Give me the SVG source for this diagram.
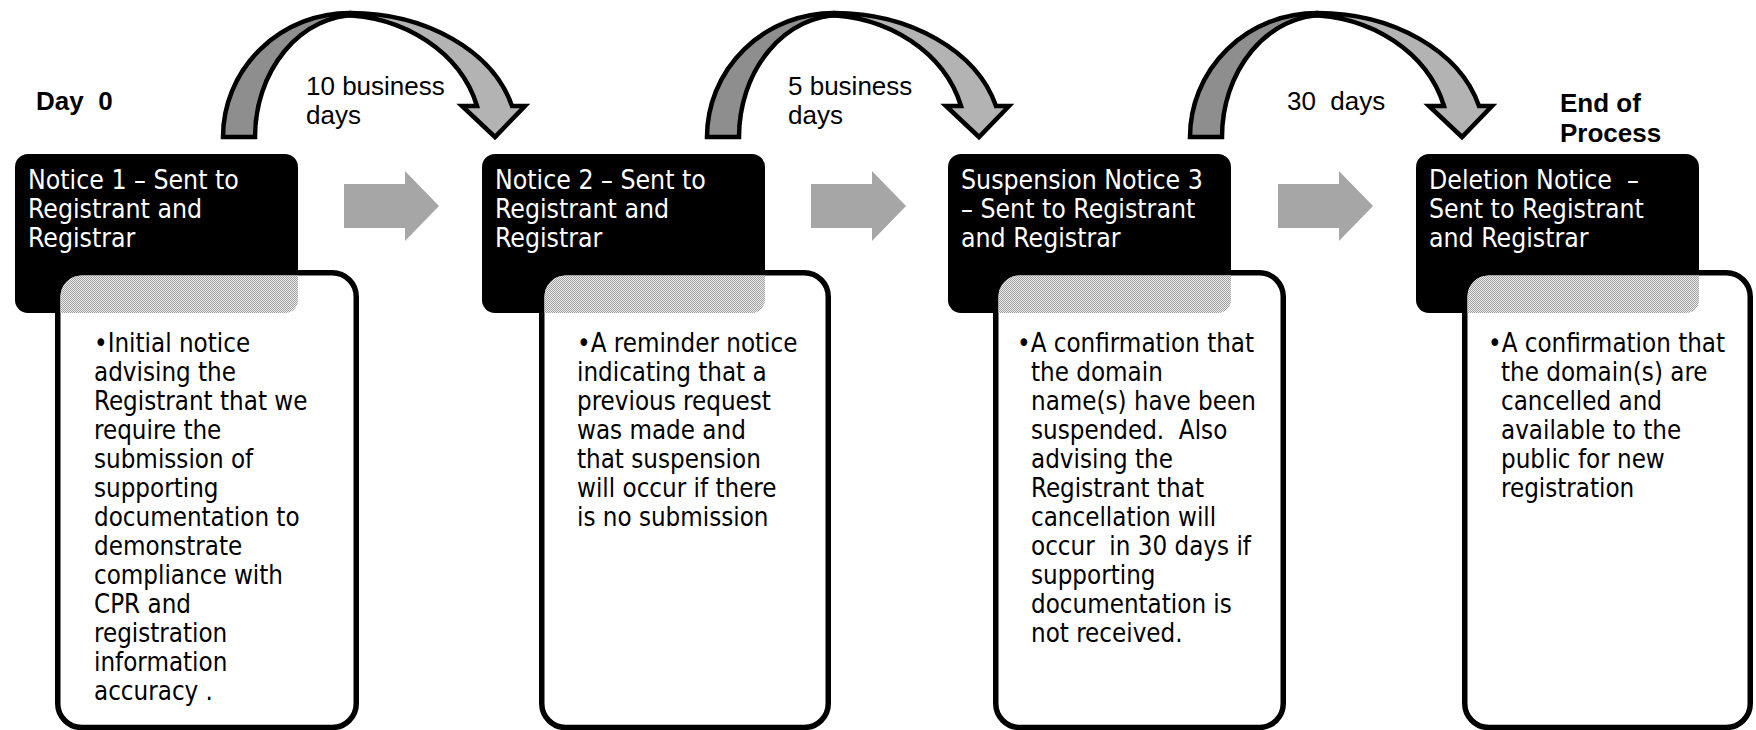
<svg xmlns="http://www.w3.org/2000/svg" width="1756" height="730" viewBox="0 0 1756 730">
<defs>
<style>
.hdr{fill:#000}
.htxt{font-family:"DejaVu Sans Condensed","Liberation Sans",Arial,sans-serif;font-size:26.4px;fill:#fff}
.body{fill:#fff;stroke:#000;stroke-width:5.5}
.btxt{font-family:"DejaVu Sans Condensed","DejaVu Sans",Verdana,sans-serif;font-size:25.7px;fill:#000}
.lbl{font-family:"Liberation Sans",Arial,sans-serif;font-size:26px;fill:#000}
.bold{font-weight:bold}
.garrow{fill:#a6a6a6}
.dark{fill:#8e8e8e;stroke:#000;stroke-width:4.5;stroke-linejoin:miter}
.light{fill:#b3b3b3;stroke:#000;stroke-width:4.5;stroke-linejoin:miter}
.pat{fill:url(#dots)}
</style>
<pattern id="dots" width="2" height="2" patternUnits="userSpaceOnUse">
<rect width="2" height="2" fill="#ececec"/>
<rect width="1" height="1" fill="#a0a0a0"/>
<rect x="1" y="1" width="1" height="1" fill="#a0a0a0"/>
</pattern>
<clipPath id="c1"><rect x="60.5" y="275.5" width="293" height="449" rx="21"/></clipPath>
<clipPath id="c2"><rect x="544.5" y="275.5" width="281" height="449" rx="21"/></clipPath>
<clipPath id="c3"><rect x="998.5" y="275.5" width="282" height="449" rx="21"/></clipPath>
<clipPath id="c4"><rect x="1467.5" y="275.5" width="280" height="449" rx="21"/></clipPath>
<g id="curve">
<path class="dark" d="M223,137 A127,124 0 0 1 350,13 L357,15 A102,122 0 0 0 255,137 Z"/>
<path class="light" d="M350,13 A167,124 0 0 1 512,106 L525,106 L495,137 L462,106 L477,106 A143,122 0 0 0 340,15 Z"/>
</g>
</defs>
<rect width="1756" height="730" fill="#fff"/>

<g id="connectors">
<use href="#curve"/>
<use href="#curve" transform="translate(484,0)"/>
<use href="#curve" transform="translate(967,0)"/>
<polygon class="garrow" points="344,184 405,184 405,171 439,206 405,241 405,228 344,228"/>
<polygon class="garrow" points="811,184 872,184 872,171 906,206 872,241 872,228 811,228"/>
<polygon class="garrow" points="1278,184 1339,184 1339,171 1373,206 1339,241 1339,228 1278,228"/>
</g>

<g id="labels">
<text class="lbl bold" x="36" y="110">Day&#160; 0</text>
<text class="lbl" x="306" y="95">10 business</text>
<text class="lbl" x="306" y="124">days</text>
<text class="lbl" x="788" y="95">5 business</text>
<text class="lbl" x="788" y="124">days</text>
<text class="lbl" x="1287" y="110">30&#160; days</text>
<text class="lbl bold" x="1560" y="112">End of</text>
<text class="lbl bold" x="1560" y="142">Process</text>
</g>

<g id="node1">
<rect class="hdr" x="15" y="154" width="283" height="159" rx="13"/>
<rect class="body" x="57.75" y="272.75" width="298.5" height="454.75" rx="24"/>
<rect class="pat" x="15" y="154" width="283" height="159" rx="13" clip-path="url(#c1)"/>
<text class="htxt" x="28" y="189">Notice 1 – Sent to</text>
<text class="htxt" x="28" y="218">Registrant and</text>
<text class="htxt" x="28" y="247">Registrar</text>
<text class="btxt" x="94" y="352">•Initial notice</text>
<text class="btxt" x="94" y="381">advising the</text>
<text class="btxt" x="94" y="410">Registrant that we</text>
<text class="btxt" x="94" y="439">require the</text>
<text class="btxt" x="94" y="468">submission of</text>
<text class="btxt" x="94" y="497">supporting</text>
<text class="btxt" x="94" y="526">documentation to</text>
<text class="btxt" x="94" y="555">demonstrate</text>
<text class="btxt" x="94" y="584">compliance with</text>
<text class="btxt" x="94" y="613">CPR and</text>
<text class="btxt" x="94" y="642">registration</text>
<text class="btxt" x="94" y="671">information</text>
<text class="btxt" x="94" y="700">accuracy .</text>
</g>

<g id="node2">
<rect class="hdr" x="482" y="154" width="283" height="159" rx="13"/>
<rect class="body" x="541.75" y="272.75" width="286.5" height="454.75" rx="24"/>
<rect class="pat" x="482" y="154" width="283" height="159" rx="13" clip-path="url(#c2)"/>
<text class="htxt" x="495" y="189">Notice 2 – Sent to</text>
<text class="htxt" x="495" y="218">Registrant and</text>
<text class="htxt" x="495" y="247">Registrar</text>
<text class="btxt" x="577" y="352">•A reminder notice</text>
<text class="btxt" x="577" y="381">indicating that a</text>
<text class="btxt" x="577" y="410">previous request</text>
<text class="btxt" x="577" y="439">was made and</text>
<text class="btxt" x="577" y="468">that suspension</text>
<text class="btxt" x="577" y="497">will occur if there</text>
<text class="btxt" x="577" y="526">is no submission</text>
</g>

<g id="node3">
<rect class="hdr" x="948" y="154" width="283" height="159" rx="13"/>
<rect class="body" x="995.75" y="272.75" width="287.5" height="454.75" rx="24"/>
<rect class="pat" x="948" y="154" width="283" height="159" rx="13" clip-path="url(#c3)"/>
<text class="htxt" x="961" y="189">Suspension Notice 3</text>
<text class="htxt" x="961" y="218">– Sent to Registrant</text>
<text class="htxt" x="961" y="247">and Registrar</text>
<text class="btxt" x="1017" y="352">•A confirmation that</text>
<text class="btxt" x="1031" y="381">the domain</text>
<text class="btxt" x="1031" y="410">name(s) have been</text>
<text class="btxt" x="1031" y="439">suspended.&#160; Also</text>
<text class="btxt" x="1031" y="468">advising the</text>
<text class="btxt" x="1031" y="497">Registrant that</text>
<text class="btxt" x="1031" y="526">cancellation will</text>
<text class="btxt" x="1031" y="555">occur&#160; in 30 days if</text>
<text class="btxt" x="1031" y="584">supporting</text>
<text class="btxt" x="1031" y="613">documentation is</text>
<text class="btxt" x="1031" y="642">not received.</text>
</g>

<g id="node4">
<rect class="hdr" x="1416" y="154" width="283" height="159" rx="13"/>
<rect class="body" x="1464.75" y="272.75" width="285.5" height="454.75" rx="24"/>
<rect class="pat" x="1416" y="154" width="283" height="159" rx="13" clip-path="url(#c4)"/>
<text class="htxt" x="1429" y="189">Deletion Notice&#160; –</text>
<text class="htxt" x="1429" y="218">Sent to Registrant</text>
<text class="htxt" x="1429" y="247">and Registrar</text>
<text class="btxt" x="1488" y="352">•A confirmation that</text>
<text class="btxt" x="1501" y="381">the domain(s) are</text>
<text class="btxt" x="1501" y="410">cancelled and</text>
<text class="btxt" x="1501" y="439">available to the</text>
<text class="btxt" x="1501" y="468">public for new</text>
<text class="btxt" x="1501" y="497">registration</text>
</g>
</svg>
